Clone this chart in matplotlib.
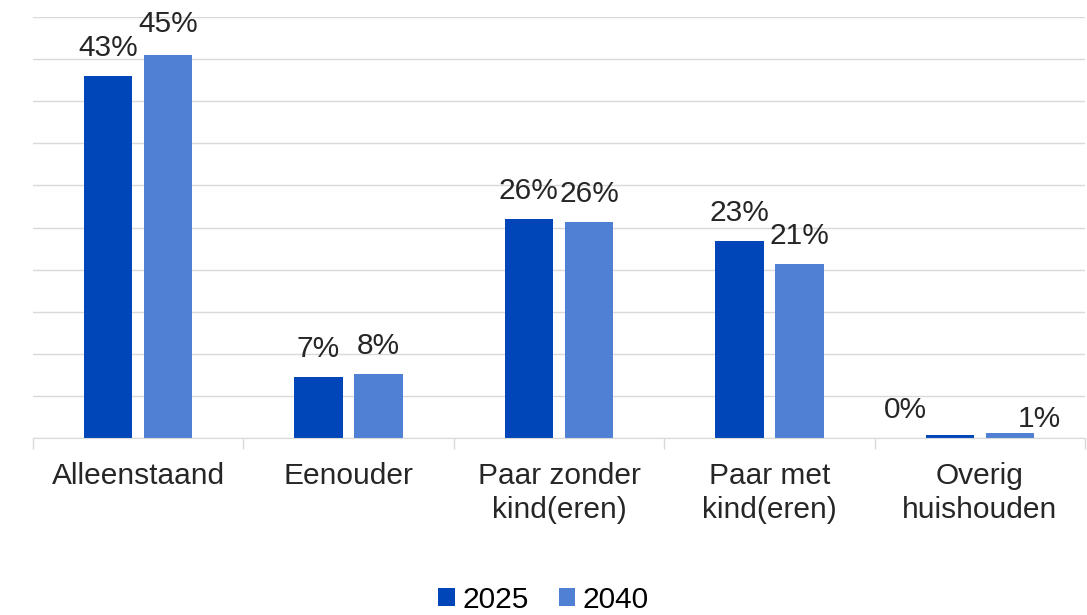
import matplotlib.pyplot as plt
import numpy as np

plt.rcParams['font.family'] = ['Liberation Sans', 'DejaVu Sans']

categories = ["Alleenstaand", "Eenouder", "Paar zonder\nkind(eren)", "Paar met\nkind(eren)", "Overig\nhuishouden"]
v2025 = [43.0, 7.2, 26.0, 23.4, 0.4]
v2040 = [45.5, 7.6, 25.7, 20.7, 0.6]
lab2025 = ["43%", "7%", "26%", "23%", "0%"]
lab2040 = ["45%", "8%", "26%", "21%", "1%"]

c2025 = "#0046B9"
c2040 = "#4F80D3"
fs = 21.5

fig = plt.figure(figsize=(10.87, 6.15), dpi=100)
ax = fig.add_axes([33 / 1087, 1 - 438 / 615, 1052 / 1087, 421 / 615])

x = np.arange(len(categories))
w = 0.23
off = 0.143
ax.bar(x - off, v2025, w, color=c2025, label="2025", zorder=3)
ax.bar(x + off, v2040, w, color=c2040, label="2040", zorder=3)

# label offsets in points (dx, dy); the last group is placed by hand like the original
d1 = [(0, 10), (0, 10), (0, 10), (0, 10), (-32, 8)]
d2 = [(0, 12), (0, 10), (0, 10), (0, 10), (21, 0)]
for i in range(len(categories)):
    ax.annotate(lab2025[i], (x[i] - off, v2025[i]), xytext=d1[i], textcoords="offset points",
                ha="center", va="bottom", fontsize=fs, color="#262626")
    ax.annotate(lab2040[i], (x[i] + off, v2040[i]), xytext=d2[i], textcoords="offset points",
                ha="center", va="bottom", fontsize=fs, color="#262626")

ax.set_xlim(-0.5, len(categories) - 0.5)
ax.set_ylim(0, 50)
ax.set_yticks(np.arange(0, 51, 5))
ax.yaxis.grid(True, color="#d9d9d9", linewidth=1, zorder=0)
ax.tick_params(axis="y", length=0, labelleft=False)

ax.set_xticks(x)
ax.set_xticklabels(categories, fontsize=fs, color="#262626", linespacing=1.28)
ax.tick_params(axis="x", length=0, pad=17)
ax.set_xticks(np.arange(-0.5, len(categories)), minor=True)
ax.tick_params(axis="x", which="minor", length=8, color="#d9d9d9", width=1)

for s in ["top", "right", "left"]:
    ax.spines[s].set_visible(False)
ax.spines["bottom"].set_color("#d9d9d9")
ax.spines["bottom"].set_zorder(4)

fig.legend(loc="lower center", bbox_to_anchor=(0.5, -0.042), ncol=2, frameon=False,
           fontsize=fs, handlelength=0.55, handleheight=0.55, handletextpad=0.25,
           columnspacing=1.0)

fig.savefig("out.png", dpi=100)
